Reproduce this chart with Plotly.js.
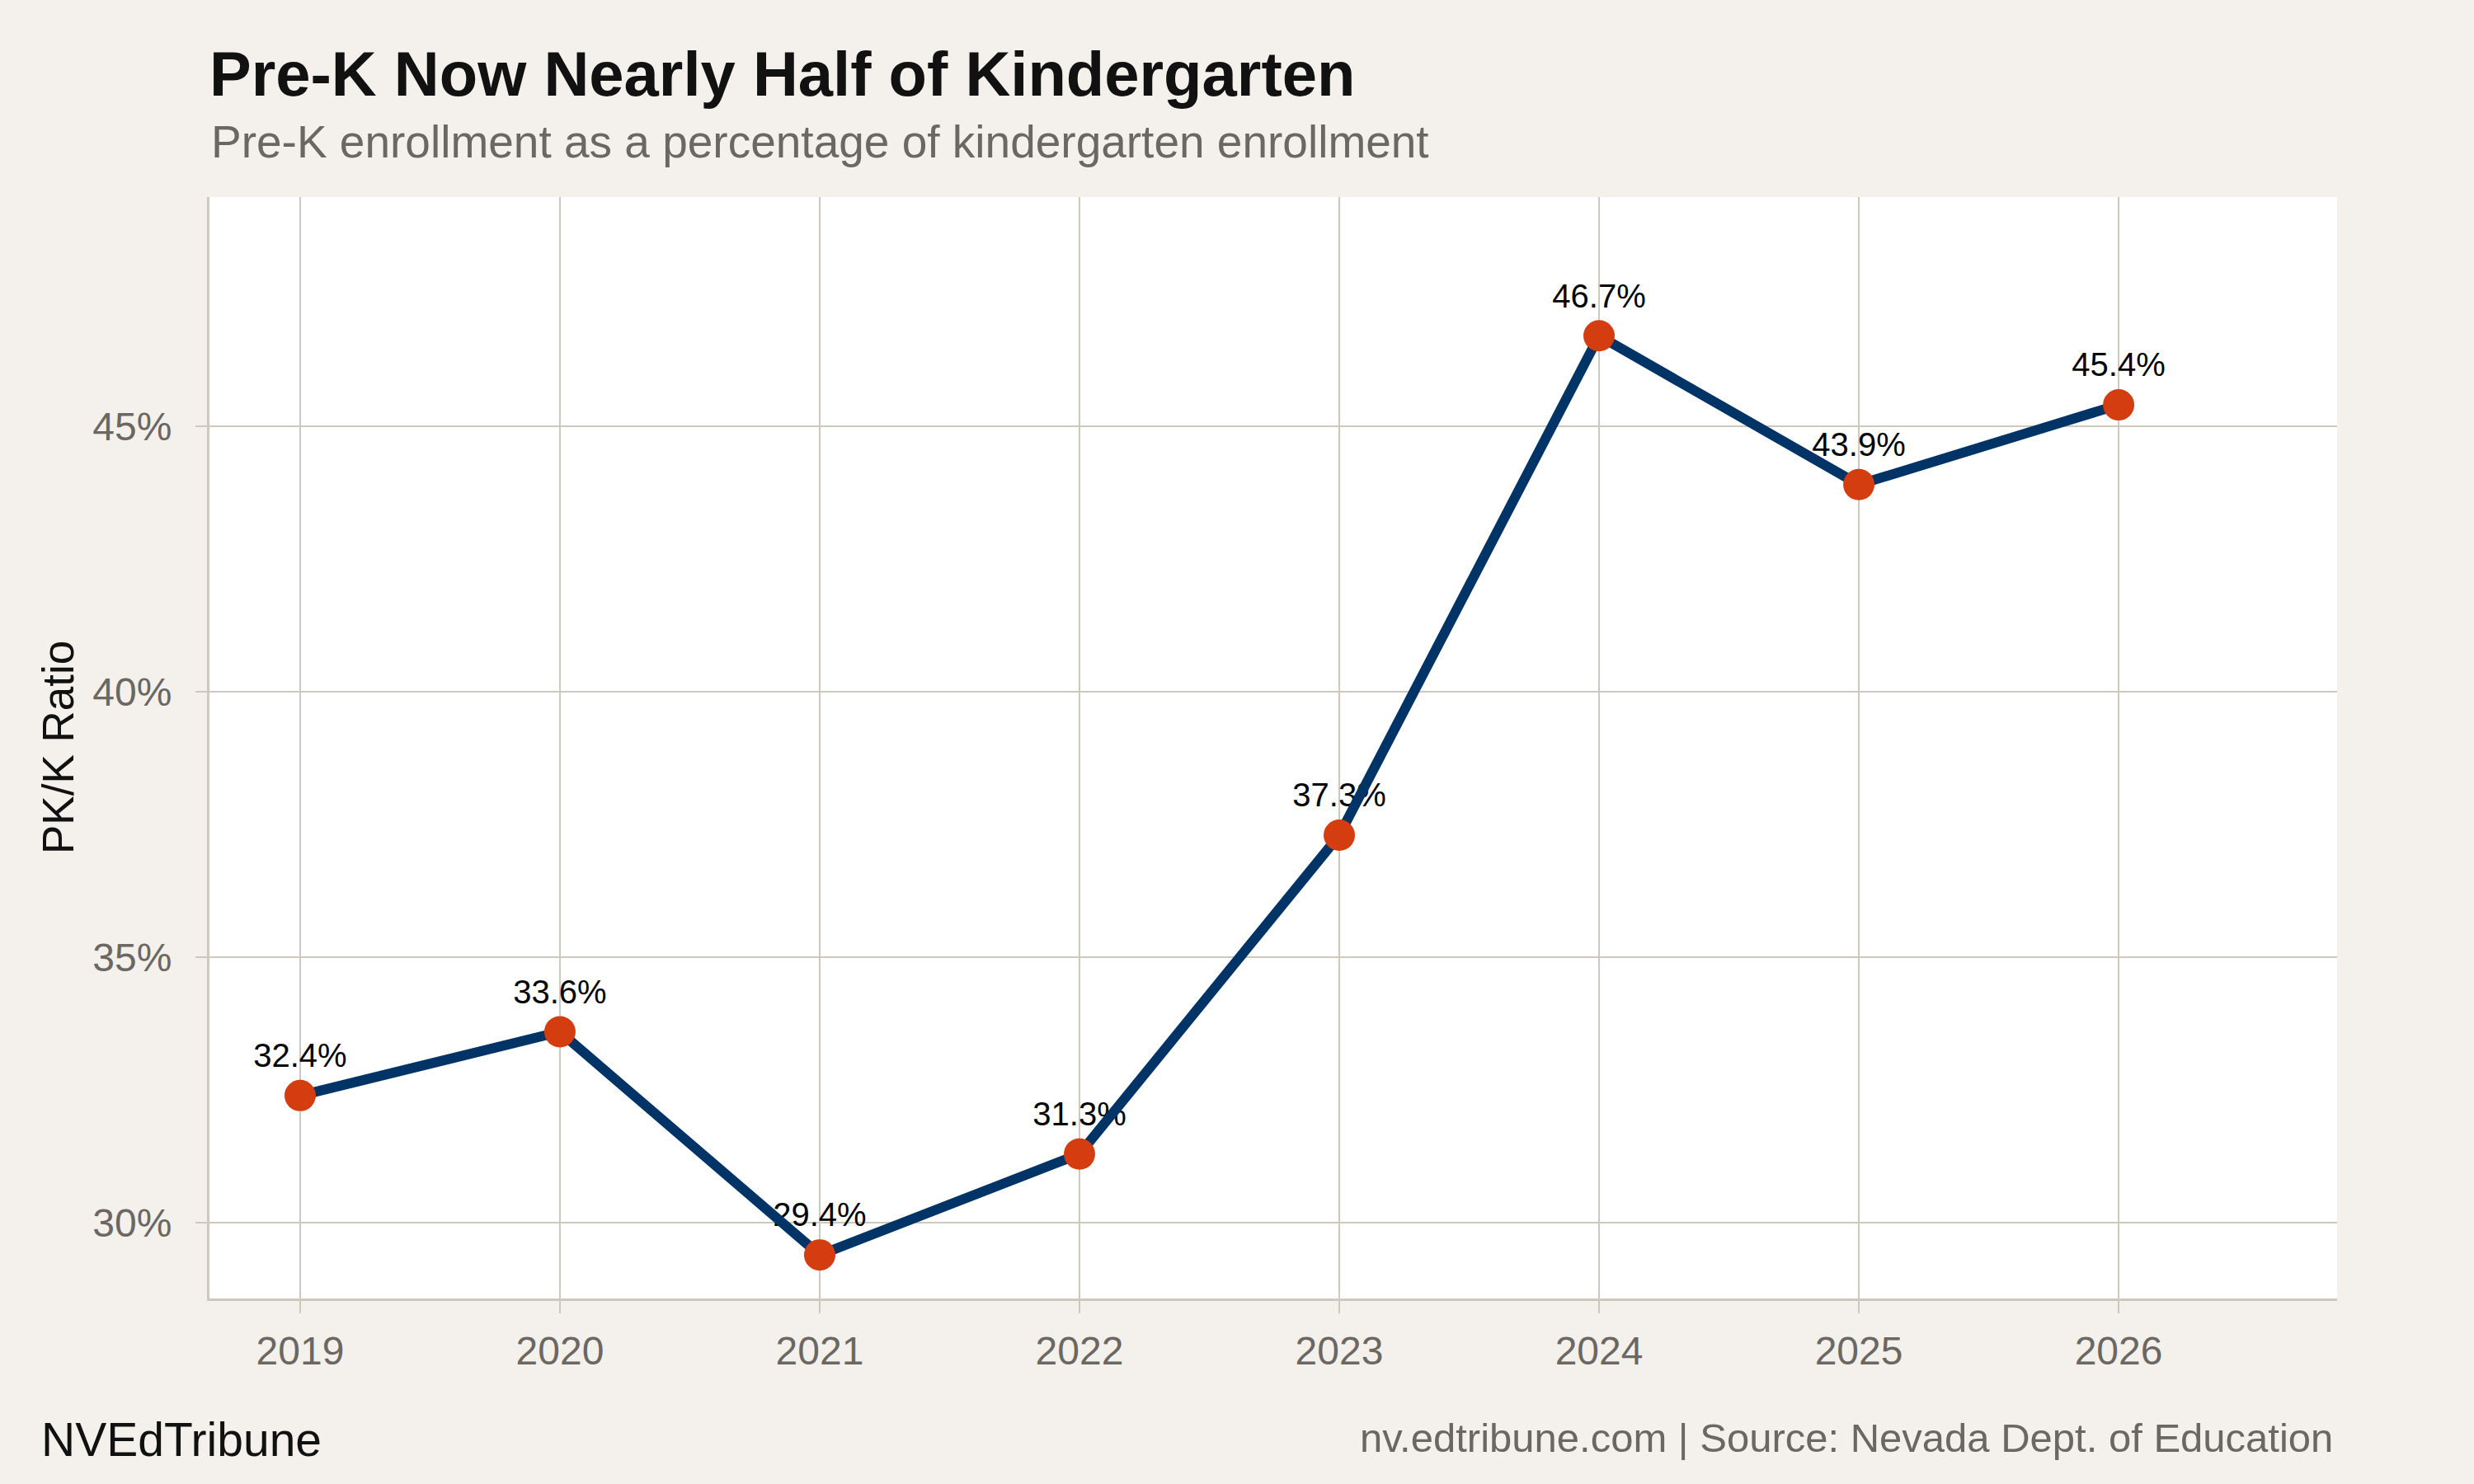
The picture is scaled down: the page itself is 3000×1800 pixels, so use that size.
<!DOCTYPE html>
<html>
<head>
<meta charset="utf-8">
<script src="https://cdn.plot.ly/plotly-3.0.1.min.js"></script>
<style>
  html, body { margin: 0; padding: 0; background: #f4f1ec; }
  #chart { width: 3000px; height: 1800px; }
</style>
</head>
<body>
<div id="chart"></div>
<script>
const years = [2019, 2020, 2021, 2022, 2023, 2024, 2025, 2026];
const ratio = [32.4, 33.6, 29.4, 31.3, 37.3, 46.7, 43.9, 45.4];
const ratioLabels = ["32.4%", "33.6%", "29.4%", "31.3%", "37.3%", "46.7%", "43.9%", "45.4%"];
const yTicks = [30, 35, 40, 45];
const yTickText = ["30%", "35%", "40%", "45%"];

const gridColor = "#cec8bf";
const greyText = "#6b6762";
const font = "Liberation Sans, Arial, Helvetica, sans-serif";

// labels go in their own trace first so the line is drawn over them
const labelTrace = {
    x: years,
    y: ratio,
    mode: "markers+text",
    text: ratioLabels,
    textposition: "top center",
    textfont: {family: font, size: 40, color: "#000000"},
    marker: {size: 38, color: "rgba(0,0,0,0)"},
    hoverinfo: "skip",
    showlegend: false
};

const lineTrace = {
    x: years,
    y: ratio,
    mode: "lines+markers",
    line: {color: "#003366", width: 12},
    marker: {size: 38, color: "#d43d0f"},
    hoverinfo: "skip",
    showlegend: false
};

const layout = {
    width: 3000,
    height: 1800,
    paper_bgcolor: "#f4f1ec",
    plot_bgcolor: "#ffffff",
    margin: {l: 254, r: 166, t: 239, b: 225},
    font: {family: font, color: greyText},
    title: {
        text: "<b>Pre-K Now Nearly Half of Kindergarten</b>",
        font: {family: font, size: 76, color: "#111111"},
        xref: "container",
        x: 254 / 3000,
        xanchor: "left",
        yref: "container",
        y: 1 - 89 / 1800,
        yanchor: "middle"
    },
    xaxis: {
        range: [2018.651, 2026.841],
        tickvals: years,
        ticktext: years.map(String),
        showgrid: true,
        gridcolor: gridColor,
        gridwidth: 2,
        showline: true,
        linecolor: gridColor,
        linewidth: 3,
        ticks: "outside",
        ticklen: 15,
        tickwidth: 2,
        tickcolor: gridColor,
        ticklabelstandoff: 4,
        tickfont: {family: font, size: 48, color: greyText},
        zeroline: false,
        fixedrange: true
    },
    yaxis: {
        range: [28.58, 49.312],
        tickvals: yTicks,
        ticktext: yTickText,
        showgrid: true,
        gridcolor: gridColor,
        gridwidth: 2,
        showline: true,
        linecolor: gridColor,
        linewidth: 3,
        ticks: "outside",
        ticklen: 14,
        tickwidth: 2,
        tickcolor: gridColor,
        ticklabelstandoff: 19,
        tickfont: {family: font, size: 48, color: greyText},
        zeroline: false,
        fixedrange: true
    },
    annotations: [
        {
            text: "Pre-K enrollment as a percentage of kindergarten enrollment",
            xref: "paper", yref: "paper",
            x: 0, xanchor: "left",
            y: 1.0498, yanchor: "middle",
            showarrow: false,
            font: {family: font, size: 55, color: greyText}
        },
        {
            text: "PK/K Ratio",
            xref: "paper", yref: "paper",
            x: -0.0713, xanchor: "center",
            y: 0.5, yanchor: "middle",
            textangle: -90,
            showarrow: false,
            font: {family: font, size: 53, color: "#111111"}
        },
        {
            text: "NVEdTribune",
            xref: "paper", yref: "paper",
            x: -0.0798, xanchor: "left",
            y: -0.128, yanchor: "middle",
            showarrow: false,
            font: {family: font, size: 57, color: "#111111"}
        },
        {
            text: "nv.edtribune.com | Source: Nevada Dept. of Education",
            xref: "paper", yref: "paper",
            x: 0.9988, xanchor: "right",
            y: -0.1265, yanchor: "middle",
            showarrow: false,
            font: {family: font, size: 49, color: greyText}
        }
    ]
};

Plotly.newPlot("chart", [labelTrace, lineTrace], layout, {displayModeBar: false, staticPlot: true});
</script>
</body>
</html>
